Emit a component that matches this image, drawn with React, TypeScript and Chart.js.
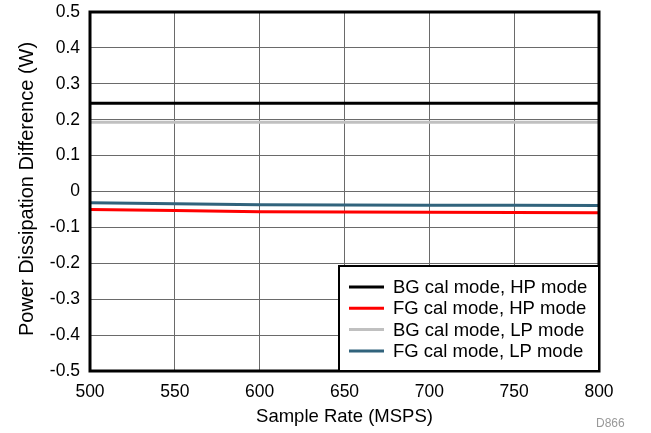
import React, { useEffect, useRef } from "react";
import { Chart, registerables } from "chart.js";

Chart.register(...registerables);

const sampleRates = [500, 550, 600, 650, 700, 750, 800];
const bgHp = [0.246, 0.246, 0.246, 0.246, 0.246, 0.246, 0.246];
const fgHp = [-0.05, -0.053, -0.0565, -0.057, -0.058, -0.0585, -0.059];
const bgLp = [0.193, 0.193, 0.193, 0.193, 0.193, 0.193, 0.193];
const fgLp = [-0.031, -0.034, -0.037, -0.0375, -0.038, -0.0385, -0.039];

const seriesNames = ["BG cal mode, HP mode", "FG cal mode, HP mode", "BG cal mode, LP mode", "FG cal mode, LP mode"];
const seriesColors = ["#000000", "#ff0000", "#c0c0c0", "#31637c"];
const seriesValues = [bgHp, fgHp, bgLp, fgLp];

const xTitle = "Sample Rate (MSPS)";
const yTitle = "Power Dissipation Difference (W)";
const FONT = "'Liberation Sans', Arial, sans-serif";

const frameAndLegend = {
  id: "frameAndLegend",
  afterDraw(chart: any) {
    const { ctx, chartArea: a } = chart;
    ctx.save();
    ctx.strokeStyle = "#000";
    ctx.lineWidth = 3;
    ctx.strokeRect(a.left, a.top, a.right - a.left, a.bottom - a.top);
    // axis titles
    ctx.fillStyle = "#000";
    ctx.font = "18.5px " + FONT;
    ctx.textAlign = "center";
    ctx.textBaseline = "alphabetic";
    ctx.fillText(xTitle, (a.left + a.right) / 2, 422);
    ctx.save();
    ctx.translate(33, 189);
    ctx.rotate(-Math.PI / 2);
    ctx.font = "20px " + FONT;
    ctx.textBaseline = "alphabetic";
    ctx.fillText(yTitle, 0, 0);
    ctx.restore();
    // legend box
    const bx = 339, by = 266, bw = a.right - 339, bh = a.bottom - 266;
    ctx.fillStyle = "#fff";
    ctx.fillRect(bx, by, bw, bh);
    ctx.strokeStyle = "#000";
    ctx.lineWidth = 2;
    ctx.strokeRect(bx, by, bw, bh);
    ctx.font = "18.5px " + FONT;
    ctx.textBaseline = "middle";
    ctx.textAlign = "left";
    seriesNames.forEach((n, i) => {
      const y = 287 + i * 21.3;
      ctx.strokeStyle = seriesColors[i];
      ctx.lineWidth = 3;
      ctx.beginPath();
      ctx.moveTo(349, y);
      ctx.lineTo(384, y);
      ctx.stroke();
      ctx.fillStyle = "#000";
      ctx.fillText(n, 393, y + 1);
    });
    ctx.restore();
  },
};

export default function App() {
  const ref = useRef<HTMLCanvasElement>(null);
  useEffect(() => {
    document.body.style.margin = "0";
    const chart = new Chart(ref.current!, {
      type: "line",
      data: {
        datasets: seriesValues.map((vals, i) => ({
          label: seriesNames[i],
          data: sampleRates.map((x, j) => ({ x, y: vals[j] })),
          borderColor: seriesColors[i],
          backgroundColor: seriesColors[i],
          borderWidth: 3,
          pointRadius: 0,
          tension: 0,
        })),
      },
      options: {
        animation: false,
        responsive: false,
        layout: { padding: { top: 12, right: 52, left: 0, bottom: 0 } },
        plugins: { legend: { display: false }, tooltip: { enabled: false } },
        scales: {
          x: {
            type: "linear",
            min: 500,
            max: 800,
            afterFit: (s: any) => { s.height = 62; s.paddingLeft = 0; s.paddingRight = 0; },
            ticks: { stepSize: 50, color: "#000", padding: 11, font: { size: 17.5, family: FONT }, maxRotation: 0 },
            grid: { color: "#6a6a6a", lineWidth: 1, drawTicks: false },
            border: { display: false },
          },
          y: {
            min: -0.5,
            max: 0.5,
            afterFit: (s: any) => { s.width = 90; s.paddingTop = 0; s.paddingBottom = 0; },
            ticks: {
              stepSize: 0.1,
              color: "#000",
              padding: 10,
              font: { size: 17.5, family: FONT },
              callback: (v: any) => {
                const n = Math.round(Number(v) * 10) / 10;
                return n === 0 ? "0" : n.toFixed(1);
              },
            },
            grid: { color: "#6a6a6a", lineWidth: 1, drawTicks: false },
            border: { display: false },
          },
        },
      },
      plugins: [frameAndLegend],
    });
    return () => chart.destroy();
  }, []);
  return (
    <div style={{ position: "relative", width: 651, height: 433 }}>
      <canvas ref={ref} width={651} height={433} style={{ display: "block" }} />
      <div style={{ position: "absolute", left: 596, top: 416, fontFamily: FONT, fontSize: 12, color: "#999" }}>D866</div>
    </div>
  );
}
